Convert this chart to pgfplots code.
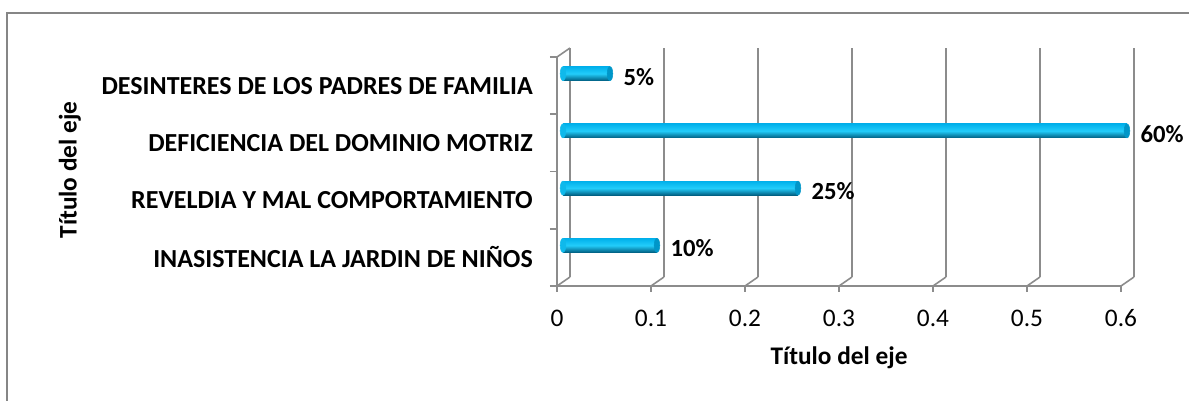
\documentclass[border=0pt]{standalone}
\usepackage{pgfplots}
\pgfplotsset{compat=1.18}
\usepackage{fontspec}
\setmainfont{Carlito}
\definecolor{gridc}{RGB}{140,140,140}
\definecolor{framec}{RGB}{134,134,134}
\definecolor{barTop}{RGB}{0,176,235}
\definecolor{barMid}{RGB}{35,205,250}
\definecolor{barBot}{RGB}{0,95,130}
\definecolor{capL}{RGB}{15,185,235}
\definecolor{capR}{RGB}{0,150,200}
\pgfplotsset{cylbar/.style={xbar, bar width=10.5pt, draw=none, top color=barTop, bottom color=barBot, middle color=barMid, xshift=4.5pt, yshift=9pt}}
\begin{document}
\begin{tikzpicture}
\useasboundingbox (0,0) rectangle (891.75pt,300pt);
\draw[framec, line width=1.2pt] (5.25pt,-2pt) -- (5.25pt,290.25pt) -- (895pt,290.25pt);
% back wall
\begin{axis}[at={(427.5pt,92.25pt)}, anchor=south west, scale only axis,
  width=423pt, height=171.75pt, xmin=0, xmax=0.6, ymin=-0.5, ymax=3.5,
  xtick={0,0.1,0.2,0.3,0.4,0.5,0.6}, xticklabels={}, ytick=\empty,
  axis line style={draw=none}, xmajorgrids, grid style={gridc, line width=1.2pt},
  major tick length=0pt]
\addplot[draw=none] coordinates {(0,0)};
\end{axis}
% front
\begin{axis}[at={(417.75pt,85.5pt)}, anchor=south west, scale only axis,
  width=423pt, height=171.75pt, xmin=0, xmax=0.6, ymin=-0.5, ymax=3.5,
  axis x line*=bottom, axis y line*=left,
  axis line style={gridc, line width=1.2pt},
  xtick={0,0.1,0.2,0.3,0.4,0.5,0.6},
  xticklabels={0,0.1,0.2,0.3,0.4,0.5,0.6},
  ytick={0,1,2,3},
  yticklabels={INASISTENCIA LA JARDIN DE NIÑOS, REVELDIA Y MAL COMPORTAMIENTO\ , DEFICIENCIA DEL DOMINIO MOTRIZ, DESINTERES DE LOS PADRES DE FAMILIA},
  minor ytick={-0.5,0.5,1.5,2.5,3.5},
  tick align=outside, major tick length=4.5pt, minor tick length=5.25pt,
  major y tick style={draw=none},
  tick style={gridc, line width=1.2pt},
  xticklabel style={font=\fontsize{19}{22}\selectfont, inner sep=0pt, anchor=north, yshift=-13pt},
  yticklabel style={font=\bfseries\fontsize{19.5}{23}\selectfont, inner sep=0pt, anchor=east, xshift=-13.5pt},
  clip=false]
\draw[gridc, line width=1.2pt] (axis cs:0,-0.5) -- ++(9.75pt,6.75pt);
\draw[gridc, line width=1.2pt] (axis cs:0.1,-0.5) -- ++(9.75pt,6.75pt);
\draw[gridc, line width=1.2pt] (axis cs:0.2,-0.5) -- ++(9.75pt,6.75pt);
\draw[gridc, line width=1.2pt] (axis cs:0.3,-0.5) -- ++(9.75pt,6.75pt);
\draw[gridc, line width=1.2pt] (axis cs:0.4,-0.5) -- ++(9.75pt,6.75pt);
\draw[gridc, line width=1.2pt] (axis cs:0.5,-0.5) -- ++(9.75pt,6.75pt);
\draw[gridc, line width=1.2pt] (axis cs:0.6,-0.5) -- ++(9.75pt,6.75pt);
\draw[gridc, line width=1.2pt] (axis cs:0,3.5) -- ++(9.75pt,6.75pt);
% rounded start of the cylinders
\addplot[only marks, mark=*, color=capL, mark size=5.25pt, xshift=4.5pt, yshift=9pt,
  mark options={xscale=0.4, draw=capL, fill=capL}]
  coordinates {(0,0) (0,1) (0,2) (0,3)};
% bars
\addplot[cylbar] coordinates {(0.1,0)};
\addplot[cylbar] coordinates {(0.25,1)};
\addplot[cylbar] coordinates {(0.6,2)};
\addplot[cylbar] coordinates {(0.05,3)};
% cylinder end faces
\addplot[only marks, mark=*, color=capR, mark size=5.25pt, xshift=4.5pt, yshift=9pt,
  mark options={xscale=0.4, draw=capR, fill=capR}]
  coordinates {(0.1,0) (0.25,1) (0.6,2) (0.05,3)};
% labels
\addplot[draw=none, mark=none, xshift=4.5pt, yshift=9pt, nodes near coords, point meta=explicit symbolic,
  nodes near coords style={anchor=west, inner sep=0pt, xshift=10pt, yshift=-2.25pt, text=black, font=\bfseries\fontsize{18.5}{21}\selectfont}]
  coordinates {(0.1,0) [10\%] (0.25,1) [25\%] (0.6,2) [60\%] (0.05,3) [5\%]};
\end{axis}
\node[font=\bfseries\fontsize{19}{22}\selectfont] at (629.25pt,31.5pt) {Título del eje};
\node[rotate=90, font=\bfseries\fontsize{19}{22}\selectfont] at (52.5pt,172.5pt) {Título del eje};
\end{tikzpicture}
\end{document}
